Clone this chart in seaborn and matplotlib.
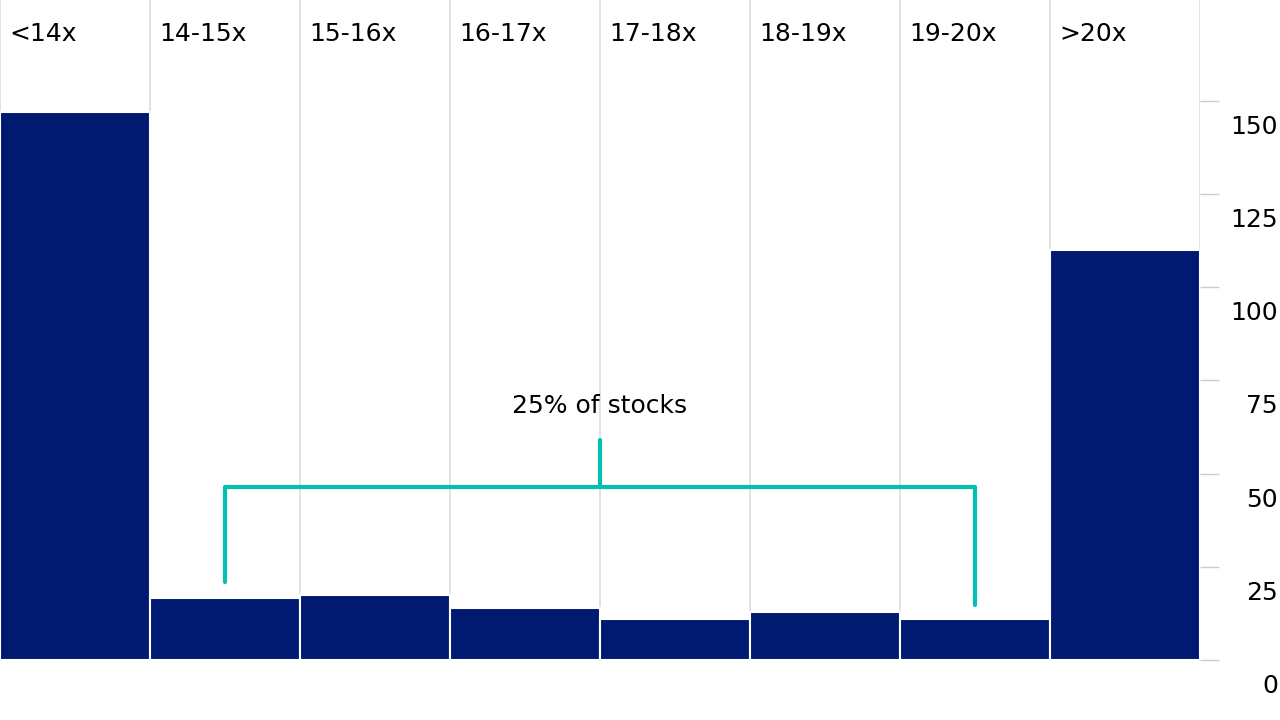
import matplotlib
matplotlib.use("Agg")
import matplotlib.pyplot as plt
import seaborn as sns
import pandas as pd

categories = ["<14x", "14-15x", "15-16x", "16-17x", "17-18x", "18-19x", "19-20x", ">20x"]
counts = [147, 16.5, 17.5, 14, 11, 12.8, 11, 110]
yticks = [0, 25, 50, 75, 100, 125, 150]
annotation = "25% of stocks"

sns.set_theme(style="white")
plt.rcParams['font.family'] = ['DejaVu Sans']
fig = plt.figure(figsize=(12.8, 7.2), dpi=100)
ax = fig.add_axes([0, 60/720, 1200/1280, 660/720])
df = pd.DataFrame({"cat": categories, "n": counts})
sns.barplot(data=df, x="cat", y="n", color="#001a72", width=1.0, ax=ax,
            edgecolor="white", linewidth=1.5, saturation=1)
ax.set_xlim(-0.5, len(categories) - 0.5)
ax.set_ylim(0, 177)
for i in range(len(categories) + 1):
    ax.axvline(i - 0.5, color="#dddddd", lw=1.2, zorder=0)
for i in range(len(categories)):
    ax.text(i - 0.44, 168, categories[i], ha="left", va="center", fontsize=18, color="black")
for s in ax.spines.values():
    s.set_visible(False)
ax.set_xticks([])
ax.set_xlabel(""); ax.set_ylabel("")
ax.yaxis.tick_right()
ax.set_yticks(yticks)
ax.set_yticklabels([])
ax.tick_params(axis="y", right=True, length=14, color="#cccccc", width=1)
for v in yticks:
    ax.text(1.065, v - 7, str(v), transform=ax.get_yaxis_transform(), ha="right",
            va="center", fontsize=18, color="black", clip_on=False)
teal = "#00bfb3"
ax.plot([1, 1, 6, 6], [21, 46.3, 46.3, 14.7], color=teal, lw=3)
ax.plot([3.5, 3.5], [46.3, 59], color=teal, lw=3)
ax.text(3.5, 68, annotation, ha="center", va="center", fontsize=18, color="black")
fig.savefig("out.png", dpi=100)
